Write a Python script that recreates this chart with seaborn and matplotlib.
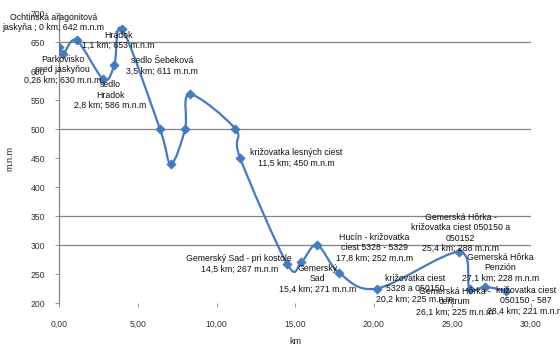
import numpy as np
import pandas as pd
import matplotlib
matplotlib.use("Agg")
import matplotlib.pyplot as plt
from matplotlib.path import Path
from matplotlib.patches import PathPatch
import seaborn as sns

# ---- data ----
km = [0.0, 0.26, 1.1, 2.8, 3.5, 4.0, 6.4, 7.1, 8.0, 8.3, 11.2, 11.5,
      14.5, 15.4, 16.4, 17.8, 20.2, 25.4, 26.1, 27.1, 28.4]
alt = [642, 630, 653, 586, 611, 672, 500, 440, 500, 560, 500, 450,
       267, 271, 300, 252, 225, 288, 225, 228, 221]

label_idx = [0, 1, 2, 3, 4, 11, 12, 13, 15, 16, 17, 18, 19, 20]
label_txt = [
    "Ochtinská aragonitová\njaskyňa ; 0 km; 642 m.n.m",
    "Parkovisko\npred jaskyňou\n0,26 km; 630 m.n.m",
    "Hrádok\n1,1 km; 653 m.n.m",
    "sedlo\nHradok\n2,8 km; 586 m.n.m",
    "sedlo Šebeková\n3,5 km; 611 m.n.m",
    "križovatka lesných ciest\n11,5 km; 450 m.n.m",
    "Gemerský Sad - pri kostole\n14,5 km; 267 m.n.m",
    "Gemerský\nSad\n15,4 km; 271 m.n.m",
    "Hucín - križovatka\nciest 5328 - 5329\n17,8 km; 252 m.n.m",
    "križovatka ciest\n5328 a 050150\n20,2 km; 225 m.n.m",
    "Gemerská Hôrka -\nkrižovatka ciest 050150 a\n050152\n25,4 km; 288 m.n.m",
    "Gemerská Hôrka -\ncentrum\n26,1 km; 225 m.n.m",
    "Gemerská Hôrka\nPenzión\n27,1 km; 228 m.n.m",
    "križovatka ciest\n050150 - 587\n28,4 km; 221 m.n.m",
]
# label placement (pixel offsets from the point) - style only
label_off = [(-6, 24), (-1, -16), (42, 0), (7, -16), (48, -1), (56, 0), (-48, 0),
             (16, -17), (35, 25), (38, 0), (2, 19), (-15, -13), (15, 19), (20, -10)]

x_ticks = [0, 5, 10, 15, 20, 25, 30]
y_ticks = [200, 250, 300, 350, 400, 450, 500, 550, 600, 650, 700]
grid_levels = [300, 350, 500, 650]

df = pd.DataFrame({"km": km, "alt": alt})

sns.set_theme(style="white")
plt.rcParams["font.family"] = ["Liberation Sans", "DejaVu Sans"]

fig = plt.figure(figsize=(5.6, 3.54), dpi=100)
ax = fig.add_axes([0.106, 0.144, 0.842, 0.819])

color = "#4679bd"

# smooth (Excel-style) curve through the points as cubic Bezier segments
xs = np.array(km, float)
ys = np.array(alt, float)
n = len(xs)
verts = [(xs[0], ys[0])]
codes = [Path.MOVETO]
for i in range(n - 1):
    p0 = np.array([xs[max(i - 1, 0)], ys[max(i - 1, 0)]])
    p1 = np.array([xs[i], ys[i]])
    p2 = np.array([xs[i + 1], ys[i + 1]])
    p3 = np.array([xs[min(i + 2, n - 1)], ys[min(i + 2, n - 1)]])
    c1 = p1 + (p2 - p0) / 6.0
    c2 = p2 - (p3 - p1) / 6.0
    verts += [tuple(c1), tuple(c2), tuple(p2)]
    codes += [Path.CURVE4] * 3
ax.add_patch(PathPatch(Path(verts, codes), facecolor="none", edgecolor=color,
                       lw=1.6, zorder=3, capstyle="round", joinstyle="round"))

sns.scatterplot(data=df, x="km", y="alt", marker="D", s=22, color=color,
                edgecolor=color, linewidth=0.5, ax=ax, zorder=4)

for lv in grid_levels:
    ax.axhline(lv, color="#858585", lw=0.9, zorder=1)

for i, t, (dx, dy) in zip(label_idx, label_txt, label_off):
    ax.annotate(t, (km[i], alt[i]), xytext=(dx, dy), textcoords="offset pixels",
                ha="center", va="center", fontsize=6.3, color="#111111",
                linespacing=1.2, zorder=5, annotation_clip=False)

ax.set_xlim(0, 30)
ax.set_ylim(200, 700)
ax.set_xticks(x_ticks)
ax.set_xticklabels([f"{v:.2f}".replace(".", ",") for v in x_ticks])
ax.set_yticks(y_ticks)
ax.set_yticklabels([str(v) for v in y_ticks])
ax.tick_params(axis="x", length=3, width=0.6, color="#888888", pad=9,
               labelsize=6.2, labelcolor="#333333", bottom=True, direction="out")
ax.tick_params(axis="y", length=3, width=0.6, color="#888888", pad=7,
               labelsize=6.2, labelcolor="#333333", left=True, direction="out")
for s in ["top", "right", "bottom"]:
    ax.spines[s].set_visible(False)
ax.spines["left"].set_color("#858585")
ax.spines["left"].set_linewidth(0.9)

ax.set_xlabel("km", fontsize=6.5, color="#222222", labelpad=6)
ax.set_ylabel("m.n.m", fontsize=6.5, color="#222222", labelpad=12)

fig.savefig("out.png", dpi=100)
